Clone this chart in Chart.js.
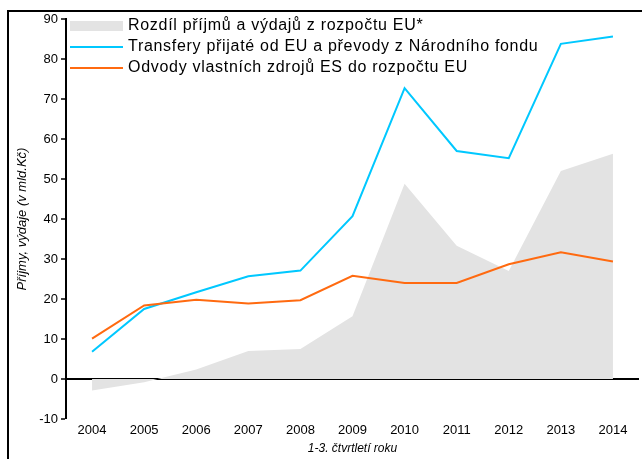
<!DOCTYPE html>
<html>
<head>
<meta charset="utf-8">
<script src="https://cdn.jsdelivr.net/npm/chart.js@4"></script>
<style>
  html, body { margin: 0; padding: 0; background: #fff; }
  #wrap { width: 642px; height: 459px; position: relative; }
</style>
</head>
<body>
<div id="wrap"><canvas id="chart"></canvas></div>
<script>
// roky (1.-3. čtvrtletí)
const years = ['2004', '2005', '2006', '2007', '2008', '2009', '2010', '2011', '2012', '2013', '2014'];

// rozdíl příjmů a výdajů z rozpočtu EU (mld. Kč)
const balance = [-2.9, -0.8, 2.4, 7.0, 7.5, 15.7, 48.8, 33.3, 27.0, 52.0, 56.3];
// transfery přijaté od EU a převody z Národního fondu
const transfers = [6.8, 17.5, 21.7, 25.7, 27.1, 40.7, 72.7, 57.0, 55.2, 83.8, 85.6];
// odvody vlastních zdrojů ES do rozpočtu EU
const payments = [10.1, 18.4, 19.8, 18.9, 19.7, 25.8, 24.0, 24.0, 28.7, 31.7, 29.4];

const yTicks = { min: -10, max: 90, step: 10 };

const legendLabels = [
    'Rozdíl příjmů a výdajů z rozpočtu EU*',
    'Transfery přijaté od EU a převody z Národního fondu',
    'Odvody vlastních zdrojů ES do rozpočtu EU'
];

const GRAY = '#e3e3e3';
const BLUE = '#00c8ff';
const ORANGE = '#ff6a10';
const FONT = "'Liberation Sans', Arial, sans-serif";

// rámeček kolem grafu (jen levá a horní hrana jsou vidět)
const framePlugin = {
    id: 'frame',
    beforeDraw(chart) {
        const ctx = chart.ctx;
        ctx.save();
        ctx.strokeStyle = '#000';
        ctx.lineWidth = 2;
        ctx.beginPath();
        ctx.moveTo(8, 470);
        ctx.lineTo(8, 11);
        ctx.lineTo(650, 11);
        ctx.stroke();
        ctx.restore();
    }
};

// legenda uvnitř grafu, vlevo nahoře
const legendPlugin = {
    id: 'insideLegend',
    afterDraw(chart) {
        const ctx = chart.ctx;
        const x0 = 70, x1 = 123, tx = 128;
        const rows = [26, 47, 68];
        ctx.save();
        ctx.fillStyle = GRAY;
        ctx.fillRect(x0, 21, x1 - x0, 10);
        ctx.lineWidth = 2;
        ctx.strokeStyle = BLUE;
        ctx.beginPath(); ctx.moveTo(x0, rows[1]); ctx.lineTo(x1, rows[1]); ctx.stroke();
        ctx.strokeStyle = ORANGE;
        ctx.beginPath(); ctx.moveTo(x0, rows[2]); ctx.lineTo(x1, rows[2]); ctx.stroke();
        ctx.fillStyle = '#000';
        ctx.font = '16px ' + FONT;
        ctx.letterSpacing = '0.7px';
        ctx.textBaseline = 'middle';
        legendLabels.forEach((t, i) => ctx.fillText(t, tx, rows[i]));
        ctx.restore();
    }
};

new Chart(document.getElementById('chart'), {
    type: 'line',
    data: {
        labels: years,
        datasets: [
            {
                label: legendLabels[1],
                data: transfers,
                borderColor: BLUE,
                borderWidth: 2,
                pointRadius: 0,
                fill: false,
                order: 1
            },
            {
                label: legendLabels[2],
                data: payments,
                borderColor: ORANGE,
                borderWidth: 2,
                pointRadius: 0,
                fill: false,
                order: 0
            },
            {
                label: legendLabels[0],
                data: balance,
                borderWidth: 0,
                borderColor: GRAY,
                backgroundColor: GRAY,
                pointRadius: 0,
                fill: 'origin',
                order: 5
            }
        ]
    },
    options: {
        responsive: true,
        maintainAspectRatio: false,
        animation: false,
        layout: { padding: { top: 19, right: 3, bottom: 0, left: 0 } },
        plugins: {
            legend: { display: false },
            tooltip: { enabled: false }
        },
        scales: {
            x: {
                offset: true,
                grid: { display: false, drawTicks: false },
                border: { display: false },
                ticks: { color: '#000', font: { family: FONT, size: 13 }, padding: 4 },
                title: {
                    display: true,
                    text: '1-3. čtvrtletí roku',
                    color: '#000',
                    font: { family: FONT, size: 12, style: 'italic' },
                    padding: { top: 0, bottom: 3 }
                },
                afterFit(scale) { scale.height = 40; }
            },
            y: {
                z: 1,
                min: yTicks.min,
                max: yTicks.max,
                border: { display: true, color: '#000', width: 2 },
                grid: {
                    drawOnChartArea: true,
                    color: c => (c.tick && c.tick.value === 0 ? '#000' : 'rgba(0,0,0,0)'),
                    lineWidth: c => (c.tick && c.tick.value === 0 ? 2 : 0),
                    tickColor: '#000',
                    tickWidth: 1.5,
                    tickLength: 5
                },
                ticks: {
                    stepSize: yTicks.step,
                    color: '#000',
                    padding: 3,
                    font: { family: FONT, size: 13 }
                },
                title: {
                    display: true,
                    text: 'Příjmy, výdaje (v mld.Kč)',
                    color: '#000',
                    font: { family: FONT, size: 13, style: 'italic' },
                    padding: { top: 15, bottom: 0 }
                },
                afterFit(scale) { scale.width = 66; }
            }
        }
    },
    plugins: [framePlugin, legendPlugin]
});
</script>
</body>
</html>
